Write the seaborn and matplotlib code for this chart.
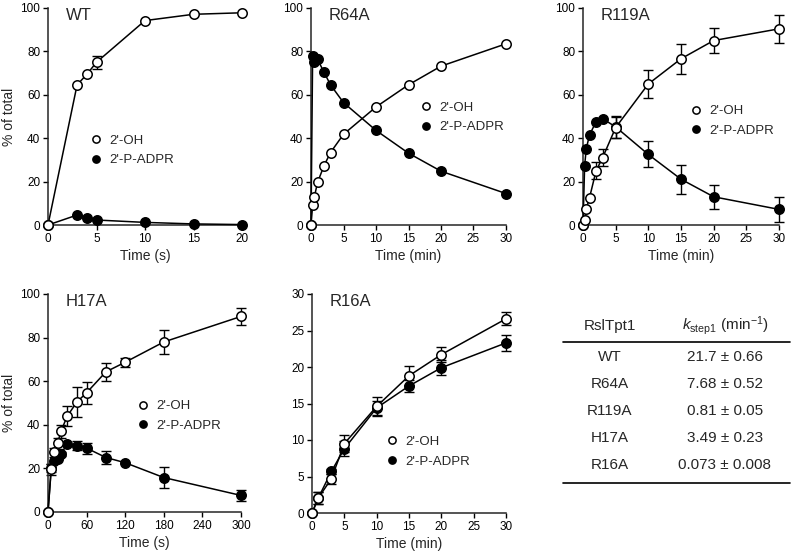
import numpy as np
import matplotlib
matplotlib.use("Agg")
import matplotlib.pyplot as plt
from matplotlib.lines import Line2D
import seaborn as sns

# ---- data ----
wt_t = [0, 3, 4, 5, 10, 15, 20]
wt_oh = [0, 64.6, 69.4, 75.0, 94.2, 97.1, 97.8]
wt_oh_err = [0, 0, 0, 3.0, 0, 0, 0]
wt_adpr = [0, 4.6, 3.1, 2.3, 1.2, 0.5, 0.2]
wt_adpr_err = [0, 0, 0, 0, 0, 0, 0]

r64_t = [0, 0.25, 0.5, 1, 2, 3, 5, 10, 15, 20, 30]
r64_oh = [0, 9.0, 12.7, 19.6, 27.3, 33.4, 41.8, 54.4, 64.6, 73.2, 83.5]
r64_oh_err = [0] * 11
r64_adpr = [0, 78.0, 75.0, 76.4, 70.4, 64.6, 56.4, 43.6, 33.1, 24.8, 14.5]
r64_adpr_err = [0] * 11

r119_t = [0, 0.25, 0.5, 1, 2, 3, 5, 10, 15, 20, 30]
r119_oh = [0, 2.3, 7.4, 12.6, 25.0, 31.0, 44.9, 65.0, 76.6, 85.0, 90.4]
r119_oh_err = [0, 0, 0, 0, 4.0, 4.0, 5.0, 6.3, 7.0, 5.7, 6.3]
r119_adpr = [0, 27.3, 35.2, 41.5, 47.6, 49.0, 45.2, 32.5, 21.1, 13.0, 7.2]
r119_adpr_err = [0, 0, 0, 0, 0, 0, 5.0, 6.0, 6.6, 5.5, 5.8]

h17_t = [0, 5, 10, 15, 20, 30, 45, 60, 90, 120, 180, 300]
h17_oh = [0, 19.5, 27.4, 31.5, 37.0, 44.0, 50.5, 54.7, 64.3, 68.7, 78.0, 89.7]
h17_oh_err = [0, 2.5, 2.0, 2.5, 3.0, 4.5, 7.0, 5.0, 4.0, 2.0, 5.5, 3.8]
h17_adpr = [0, 20.2, 23.5, 24.5, 26.5, 31.3, 30.5, 29.3, 25.0, 22.6, 15.8, 7.6]
h17_adpr_err = [0, 2.0, 0, 0, 1.0, 0, 2.0, 2.5, 3.0, 0, 4.8, 2.5]

r16_t = [0, 1, 3, 5, 10, 15, 20, 30]
r16_oh = [0, 2.1, 4.7, 9.5, 14.6, 18.8, 21.7, 26.6]
r16_oh_err = [0, 0.8, 0.7, 1.2, 1.3, 1.3, 1.0, 0.9]
r16_adpr = [0, 2.1, 5.7, 8.8, 14.4, 17.4, 19.9, 23.3]
r16_adpr_err = [0, 0.8, 0.3, 1.0, 1.0, 0.8, 1.0, 1.1]

series_names = ["2'-OH", "2'-P-ADPR"]

table_enzymes = ["WT", "R64A", "R119A", "H17A", "R16A"]
table_k = ["21.7 ± 0.66", "7.68 ± 0.52", "0.81 ± 0.05", "3.49 ± 0.23", "0.073 ± 0.008"]

# ---- style ----
sns.set_theme(style="ticks")
plt.rcParams["font.family"] = ["Liberation Sans", "DejaVu Sans"]
plt.rcParams["mathtext.fontset"] = "custom"
plt.rcParams["mathtext.rm"] = "Liberation Sans"
plt.rcParams["mathtext.it"] = "Liberation Sans:italic"
plt.rcParams["axes.linewidth"] = 1.1
plt.rcParams["xtick.major.width"] = 1.0
plt.rcParams["ytick.major.width"] = 1.0
plt.rcParams["xtick.major.size"] = 3.5
plt.rcParams["ytick.major.size"] = 3.5
plt.rcParams["xtick.major.pad"] = 2
plt.rcParams["ytick.major.pad"] = 2
plt.rcParams["xtick.labelsize"] = 8.5
plt.rcParams["ytick.labelsize"] = 8.5

W, H = 792, 559
fig = plt.figure(figsize=(W / 100, H / 100), dpi=100)
fig.patch.set_facecolor("white")


def px_axes(l, r, t, b):
    return fig.add_axes([l / W, 1 - b / H, (r - l) / W, (b - t) / H])


MS = 6.8
MEW = 1.1


def draw_panel(ax, t, oh, oh_err, adpr, adpr_err, xmax, xticks, ymax, yticks,
               title, xlabel, ylabel, leg_xy):
    for vals, errs in [(oh, oh_err), (adpr, adpr_err)]:
        tt = [a for a, e in zip(t, errs) if e > 0]
        vv = [a for a, e in zip(vals, errs) if e > 0]
        ee = [e for e in errs if e > 0]
        if ee:
            ax.errorbar(tt, vv, yerr=ee, fmt="none", ecolor="black",
                        elinewidth=1.0, capsize=3.5, capthick=1.0, zorder=2,
                        clip_on=False)
    sns.lineplot(x=t, y=adpr, ax=ax, color="black", lw=1.1, marker="o",
                 markersize=MS, markerfacecolor="black", markeredgecolor="black",
                 markeredgewidth=MEW, clip_on=False, zorder=3, errorbar=None)
    sns.lineplot(x=t, y=oh, ax=ax, color="black", lw=1.1, marker="o",
                 markersize=MS, markerfacecolor="white", markeredgecolor="black",
                 markeredgewidth=MEW, clip_on=False, zorder=4, errorbar=None)
    ax.set_xlim(0, xmax)
    ax.set_ylim(0, ymax)
    ax.set_xticks(xticks)
    ax.set_yticks(yticks)
    ax.set_xlabel(xlabel, fontsize=10, labelpad=3)
    ax.set_ylabel(ylabel, fontsize=10, labelpad=3)
    ax.text(0.09, 0.965, title, transform=ax.transAxes, fontsize=12,
            ha="left", va="center")
    sns.despine(ax=ax)
    ax.tick_params(colors="black", direction="out")
    handles = [
        Line2D([], [], ls="none", marker="o", ms=5.2, mfc="white", mec="black", mew=MEW),
        Line2D([], [], ls="none", marker="o", ms=5.2, mfc="black", mec="black", mew=MEW),
    ]
    ax.legend(handles, series_names, loc="center left", bbox_to_anchor=leg_xy,
              frameon=False, fontsize=9.5, handlelength=0.8, handletextpad=0.6,
              labelspacing=0.55, borderpad=0, borderaxespad=0)


ax1 = px_axes(48, 242, 8, 225)
draw_panel(ax1, wt_t, wt_oh, wt_oh_err, wt_adpr, wt_adpr_err, 20, [0, 5, 10, 15, 20],
           100, [0, 20, 40, 60, 80, 100], "WT", "Time (s)", "% of total", (0.22, 0.343))

ax2 = px_axes(311, 506, 8, 225)
draw_panel(ax2, r64_t, r64_oh, r64_oh_err, r64_adpr, r64_adpr_err, 30,
           [0, 5, 10, 15, 20, 25, 30], 100, [0, 20, 40, 60, 80, 100],
           "R64A", "Time (min)", "", (0.565, 0.495))

ax3 = px_axes(583, 779, 8, 225)
draw_panel(ax3, r119_t, r119_oh, r119_oh_err, r119_adpr, r119_adpr_err, 30,
           [0, 5, 10, 15, 20, 25, 30], 100, [0, 20, 40, 60, 80, 100],
           "R119A", "Time (min)", "", (0.55, 0.48))

ax4 = px_axes(48, 241, 294, 512)
draw_panel(ax4, h17_t, h17_oh, h17_oh_err, h17_adpr, h17_adpr_err, 300,
           [0, 60, 120, 180, 240, 300], 100, [0, 20, 40, 60, 80, 100],
           "H17A", "Time (s)", "% of total", (0.465, 0.44))

ax5 = px_axes(312, 506, 294, 513)
draw_panel(ax5, r16_t, r16_oh, r16_oh_err, r16_adpr, r16_adpr_err, 30,
           [0, 5, 10, 15, 20, 25, 30], 30, [0, 5, 10, 15, 20, 25, 30],
           "R16A", "Time (min)", "", (0.385, 0.28))

# ---- table ----
tab = fig.add_axes([0, 0, 1, 1], zorder=-1)
tab.set_xlim(0, W)
tab.set_ylim(H, 0)
tab.axis("off")
col1, col2 = 610, 725
tab.text(col1, 326, "RslTpt1", fontsize=11, ha="center", va="center")
tab.text(col2, 326, r"$k_{\mathrm{step1}}$ (min$^{-1}$)", fontsize=11,
         ha="center", va="center")
tab.plot([563, 790], [342, 342], color="black", lw=1.2)
row_y = [357, 384, 411, 438, 465]
for y, name, k in zip(row_y, table_enzymes, table_k):
    tab.text(col1, y, name, fontsize=11, ha="center", va="center")
    tab.text(col2, y, k, fontsize=11, ha="center", va="center")
tab.plot([563, 790], [483, 483], color="black", lw=1.2)

fig.savefig("out.png", dpi=100, facecolor="white")
